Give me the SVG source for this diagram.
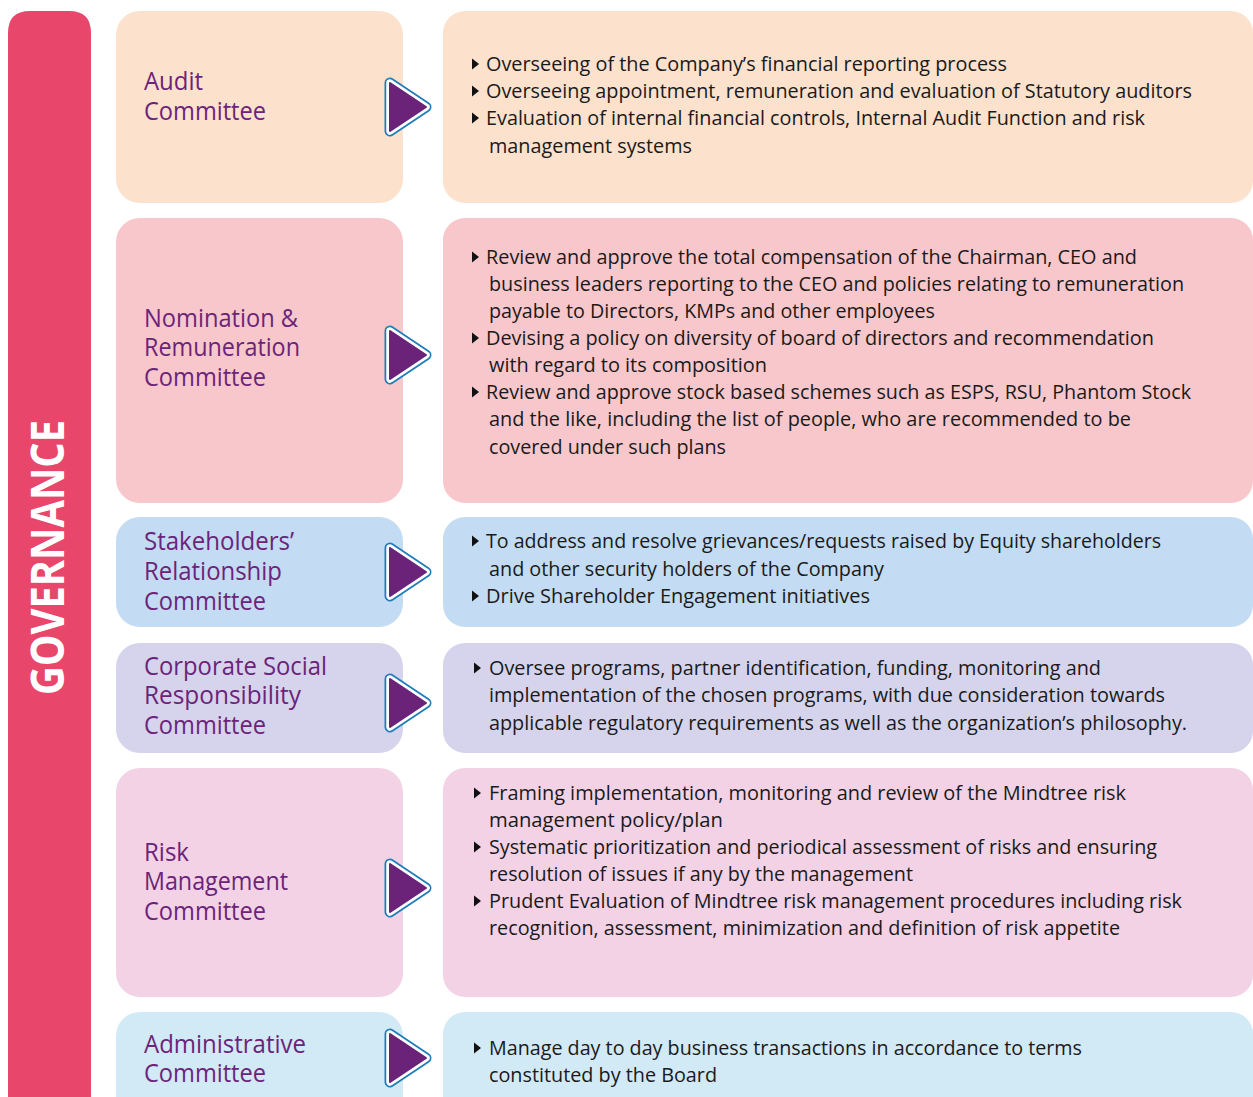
<svg xmlns="http://www.w3.org/2000/svg" xmlns:xlink="http://www.w3.org/1999/xlink" width="1253" height="1097" viewBox="0 0 1253 1097">
<style>
.lbl{font-family:"Open Sans","Noto Sans",sans-serif;font-size:25px;fill:#6B2479;}
.txt{font-family:"Open Sans","Noto Sans",sans-serif;font-size:20px;fill:#1a1a1a;}
.gov{font-family:"Open Sans","Noto Sans",sans-serif;font-size:46px;font-weight:bold;fill:#ffffff;}
</style>
<defs>
<path id="bullet" d="M0,-5.5 L7,0 L0,5.5 Z" fill="#111"/>
<g id="arrow">
<path d="M-17,-24 L19,0 L-17,24 Z" fill="none" stroke="#1E7DB8" stroke-width="11" stroke-linejoin="round"/>
<path d="M-17,-24 L19,0 L-17,24 Z" fill="#ffffff" stroke="#ffffff" stroke-width="7.5" stroke-linejoin="round"/>
<path d="M-17,-24 L19,0 L-17,24 Z" fill="#6B2379" stroke="#6B2379" stroke-width="2" stroke-linejoin="round"/>
</g>
</defs>
<rect width="1253" height="1097" fill="#ffffff"/>

<g id="governance">
<path d="M8,1110 L8,33 Q8,11 30,11 L69,11 Q91,11 91,33 L91,1110 Z" fill="#E8466A"/>
<text class="gov" transform="translate(64,695) rotate(-90)" textLength="275" lengthAdjust="spacingAndGlyphs">GOVERNANCE</text>
</g>

<g id="audit-committee">
<rect x="116" y="11" width="287" height="192" rx="24" fill="#FCE1CC"/>
<text class="lbl"><tspan x="144" y="90" textLength="59" lengthAdjust="spacingAndGlyphs">Audit</tspan><tspan x="144" y="120" textLength="122" lengthAdjust="spacingAndGlyphs">Committee</tspan></text>
</g>
<g id="audit-duties">
<rect x="443" y="11" width="810" height="192" rx="22" fill="#FCE1CC"/>
<use xlink:href="#bullet" x="472" y="64"/><use xlink:href="#bullet" x="472" y="91"/><use xlink:href="#bullet" x="472" y="118"/>
<text class="txt">
<tspan x="486" y="71" textLength="521" lengthAdjust="spacingAndGlyphs">Overseeing of the Company’s financial reporting process</tspan>
<tspan x="486" y="98" textLength="706" lengthAdjust="spacingAndGlyphs">Overseeing appointment, remuneration and evaluation of Statutory auditors</tspan>
<tspan x="486" y="125" textLength="659" lengthAdjust="spacingAndGlyphs">Evaluation of internal financial controls, Internal Audit Function and risk</tspan>
<tspan x="489" y="153" textLength="203" lengthAdjust="spacingAndGlyphs">management systems</tspan>
</text>
</g>

<g id="nomination-committee">
<rect x="116" y="218" width="287" height="285" rx="24" fill="#F8C7CB"/>
<text class="lbl"><tspan x="144" y="327" textLength="154" lengthAdjust="spacingAndGlyphs">Nomination &amp;</tspan><tspan x="144" y="356" textLength="156" lengthAdjust="spacingAndGlyphs">Remuneration</tspan><tspan x="144" y="386" textLength="122" lengthAdjust="spacingAndGlyphs">Committee</tspan></text>
</g>
<g id="nomination-duties">
<rect x="443" y="218" width="810" height="285" rx="22" fill="#F8C7CB"/>
<use xlink:href="#bullet" x="472" y="257"/><use xlink:href="#bullet" x="472" y="338"/><use xlink:href="#bullet" x="472" y="392"/>
<text class="txt">
<tspan x="486" y="264" textLength="651" lengthAdjust="spacingAndGlyphs">Review and approve the total compensation of the Chairman, CEO and</tspan>
<tspan x="489" y="291" textLength="695" lengthAdjust="spacingAndGlyphs">business leaders reporting to the CEO and policies relating to remuneration</tspan>
<tspan x="489" y="318" textLength="446" lengthAdjust="spacingAndGlyphs">payable to Directors, KMPs and other employees</tspan>
<tspan x="486" y="345" textLength="668" lengthAdjust="spacingAndGlyphs">Devising a policy on diversity of board of directors and recommendation</tspan>
<tspan x="489" y="372" textLength="278" lengthAdjust="spacingAndGlyphs">with regard to its composition</tspan>
<tspan x="486" y="399" textLength="705" lengthAdjust="spacingAndGlyphs">Review and approve stock based schemes such as ESPS, RSU, Phantom Stock</tspan>
<tspan x="489" y="426" textLength="642" lengthAdjust="spacingAndGlyphs">and the like, including the list of people, who are recommended to be</tspan>
<tspan x="489" y="454" textLength="237" lengthAdjust="spacingAndGlyphs">covered under such plans</tspan>
</text>
</g>

<g id="stakeholders-committee">
<rect x="116" y="517" width="287" height="110" rx="24" fill="#C3DCF3"/>
<text class="lbl"><tspan x="144" y="550" textLength="150" lengthAdjust="spacingAndGlyphs">Stakeholders’</tspan><tspan x="144" y="580" textLength="138" lengthAdjust="spacingAndGlyphs">Relationship</tspan><tspan x="144" y="610" textLength="122" lengthAdjust="spacingAndGlyphs">Committee</tspan></text>
</g>
<g id="stakeholders-duties">
<rect x="443" y="517" width="810" height="110" rx="22" fill="#C3DCF3"/>
<use xlink:href="#bullet" x="472" y="541"/><use xlink:href="#bullet" x="472" y="596"/>
<text class="txt">
<tspan x="486" y="548" textLength="675" lengthAdjust="spacingAndGlyphs">To address and resolve grievances/requests raised by Equity shareholders</tspan>
<tspan x="489" y="576" textLength="395" lengthAdjust="spacingAndGlyphs">and other security holders of the Company</tspan>
<tspan x="486" y="603" textLength="384" lengthAdjust="spacingAndGlyphs">Drive Shareholder Engagement initiatives</tspan>
</text>
</g>

<g id="csr-committee">
<rect x="116" y="643" width="287" height="110" rx="24" fill="#D5D4EC"/>
<text class="lbl"><tspan x="144" y="675" textLength="183" lengthAdjust="spacingAndGlyphs">Corporate Social</tspan><tspan x="144" y="704" textLength="157" lengthAdjust="spacingAndGlyphs">Responsibility</tspan><tspan x="144" y="734" textLength="122" lengthAdjust="spacingAndGlyphs">Committee</tspan></text>
</g>
<g id="csr-duties">
<rect x="443" y="643" width="810" height="110" rx="22" fill="#D5D4EC"/>
<use xlink:href="#bullet" x="474" y="668"/>
<text class="txt">
<tspan x="489" y="675" textLength="612" lengthAdjust="spacingAndGlyphs">Oversee programs, partner identification, funding, monitoring and</tspan>
<tspan x="489" y="702" textLength="676" lengthAdjust="spacingAndGlyphs">implementation of the chosen programs, with due consideration towards</tspan>
<tspan x="489" y="730" textLength="698" lengthAdjust="spacingAndGlyphs">applicable regulatory requirements as well as the organization’s philosophy.</tspan>
</text>
</g>

<g id="risk-committee">
<rect x="116" y="768" width="287" height="229" rx="24" fill="#F3D2E6"/>
<text class="lbl"><tspan x="144" y="861" textLength="45" lengthAdjust="spacingAndGlyphs">Risk</tspan><tspan x="144" y="890" textLength="144" lengthAdjust="spacingAndGlyphs">Management</tspan><tspan x="144" y="920" textLength="122" lengthAdjust="spacingAndGlyphs">Committee</tspan></text>
</g>
<g id="risk-duties">
<rect x="443" y="768" width="810" height="229" rx="22" fill="#F3D2E6"/>
<use xlink:href="#bullet" x="474" y="793"/><use xlink:href="#bullet" x="474" y="847"/><use xlink:href="#bullet" x="474" y="901"/>
<text class="txt">
<tspan x="489" y="800" textLength="637" lengthAdjust="spacingAndGlyphs">Framing implementation, monitoring and review of the Mindtree risk</tspan>
<tspan x="489" y="827" textLength="234" lengthAdjust="spacingAndGlyphs">management policy/plan</tspan>
<tspan x="489" y="854" textLength="668" lengthAdjust="spacingAndGlyphs">Systematic prioritization and periodical assessment of risks and ensuring</tspan>
<tspan x="489" y="881" textLength="424" lengthAdjust="spacingAndGlyphs">resolution of issues if any by the management</tspan>
<tspan x="489" y="908" textLength="693" lengthAdjust="spacingAndGlyphs">Prudent Evaluation of Mindtree risk management procedures including risk</tspan>
<tspan x="489" y="935" textLength="631" lengthAdjust="spacingAndGlyphs">recognition, assessment, minimization and definition of risk appetite</tspan>
</text>
</g>

<g id="administrative-committee">
<rect x="116" y="1012" width="287" height="110" rx="24" fill="#D2E9F6"/>
<text class="lbl"><tspan x="144" y="1053" textLength="162" lengthAdjust="spacingAndGlyphs">Administrative</tspan><tspan x="144" y="1082" textLength="122" lengthAdjust="spacingAndGlyphs">Committee</tspan></text>
</g>
<g id="administrative-duties">
<rect x="443" y="1012" width="810" height="110" rx="22" fill="#D2E9F6"/>
<use xlink:href="#bullet" x="474" y="1048"/>
<text class="txt">
<tspan x="489" y="1055" textLength="593" lengthAdjust="spacingAndGlyphs">Manage day to day business transactions in accordance to terms</tspan>
<tspan x="489" y="1082" textLength="228" lengthAdjust="spacingAndGlyphs">constituted by the Board</tspan>
</text>
</g>

<g id="connectors">
<use xlink:href="#arrow" x="407" y="107"/>
<use xlink:href="#arrow" x="407" y="355"/>
<use xlink:href="#arrow" x="407" y="572"/>
<use xlink:href="#arrow" x="407" y="703"/>
<use xlink:href="#arrow" x="407" y="888"/>
<use xlink:href="#arrow" x="407" y="1058"/>
</g>
</svg>
